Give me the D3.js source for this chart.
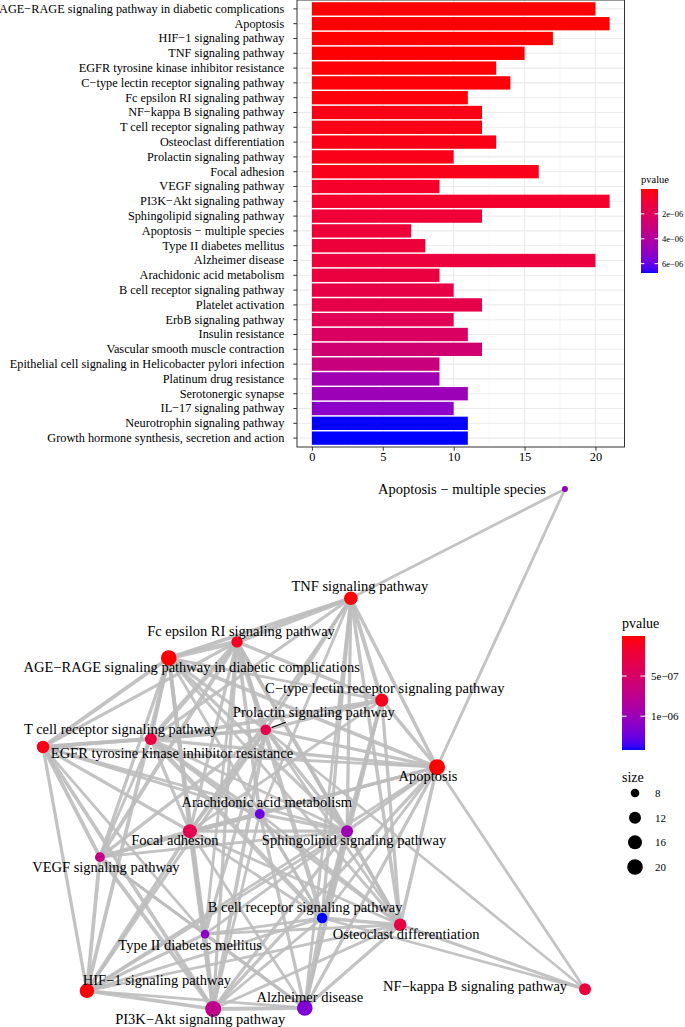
<!DOCTYPE html>
<html>
<head>
<meta charset="utf-8">
<script src="https://cdn.jsdelivr.net/npm/d3@7"></script>
<style>
  body { margin: 0; background: #fff; }
  svg { display: block; }
  svg text { font-family: "Liberation Serif", "Times New Roman", serif; }
</style>
</head>
<body>
<div id="chart"></div>
<script>
// ---- data ----
var terms = [
  "AGE\u2212RAGE signaling pathway in diabetic complications",
  "Apoptosis",
  "HIF\u22121 signaling pathway",
  "TNF signaling pathway",
  "EGFR tyrosine kinase inhibitor resistance",
  "C\u2212type lectin receptor signaling pathway",
  "Fc epsilon RI signaling pathway",
  "NF\u2212kappa B signaling pathway",
  "T cell receptor signaling pathway",
  "Osteoclast differentiation",
  "Prolactin signaling pathway",
  "Focal adhesion",
  "VEGF signaling pathway",
  "PI3K\u2212Akt signaling pathway",
  "Sphingolipid signaling pathway",
  "Apoptosis \u2212 multiple species",
  "Type II diabetes mellitus",
  "Alzheimer disease",
  "Arachidonic acid metabolism",
  "B cell receptor signaling pathway",
  "Platelet activation",
  "ErbB signaling pathway",
  "Insulin resistance",
  "Vascular smooth muscle contraction",
  "Epithelial cell signaling in Helicobacter pylori infection",
  "Platinum drug resistance",
  "Serotonergic synapse",
  "IL\u221217 signaling pathway",
  "Neurotrophin signaling pathway",
  "Growth hormone synthesis, secretion and action"
];
var counts = [20, 21, 17, 15, 13, 14, 11, 12, 12, 13, 10, 16, 9, 21, 12,
              7, 8, 20, 9, 10, 12, 10, 11, 12, 9, 9, 11, 10, 11, 11];
var pvalues = [2.1e-9, 5.6e-9, 1.2e-8, 2.0e-8, 6.0e-8, 8.0e-8, 1.1e-7, 2.4e-7,
               2.8e-7, 2.95e-7, 3.3e-7, 3.5e-7, 7.0e-7, 7.3e-7, 9.9e-7, 1.04e-6,
               1.09e-6, 1.16e-6, 1.24e-6, 1.42e-6, 1.52e-6, 1.8e-6, 2.2e-6, 2.7e-6,
               3.0e-6, 4.6e-6, 4.75e-6, 5.2e-6, 6.74e-6, 6.75e-6];
var xTicks = [0, 5, 10, 15, 20];
var barLegendTicks = [2e-6, 4e-6, 6e-6];

// network: the first 20 terms, keyed
var nodeKeys = ["A", "Ap", "H", "TN", "EG", "CT", "Fc", "NF", "TC", "Os",
                "Pr", "Fo", "VE", "PI", "Sp", "AM", "T2", "Az", "Ar", "BC"];
// layout coordinates (0..100)
var layoutX = [23.2, 72.7, 8.1, 56.8, 0, 62.5, 35.8, 100, 19.9, 65.9,
               41.1, 27.1, 10.5, 31.4, 56.1, 96.3, 29.9, 48.3, 40.0, 51.5];
var layoutY = [32.5, 53.5, 96.5, 21.0, 49.6, 40.6, 29.4, 96.2, 48.1, 83.8,
               46.3, 65.8, 70.8, 100, 65.8, 0, 85.6, 99.8, 62.5, 82.5];
// label nudges (px) from node centre
var labelDx = [23, -9, 70, 9, 129, 3, 4, -110, -30, 6,
               48, -15, 6, -13, 7, -103, -15, 5, 7, -17];
var labelDy = [9, 9, -11, -12, 6, -12, -11, -3, -10, 9,
               -18, 9, 10, 10, 9, 0, 11, -11, -12, -11];
var labelSegment = ["Pr"];
var netLegendTicks = [5e-7, 1e-6];
var sizeLegend = [8, 12, 16, 20];

var edges = [
  ["AM","TN",.25],["AM","Ap",.25],
  ["NF","Ap",.25],["NF","Pr",.22],["NF","Os",.27],["NF","BC",.22],
  ["TN","Fc",.42],["TN","A",.36],["TN","CT",.38],["TN","Ap",.32],["TN","Sp",.3],["TN","BC",.3],
  ["TN","Os",.32],["TN","Az",.25],["TN","Pr",.3],["TN","TC",.28],["TN","Fo",.25],["TN","Ar",.25],
  ["Fc","A",.48],["Fc","EG",.3],["Fc","TC",.45],["Fc","Pr",.35],["Fc","CT",.3],["Fc","Fo",.3],
  ["Fc","VE",.38],["Fc","Ar",.35],["Fc","Sp",.35],["Fc","BC",.45],["Fc","PI",.3],["Fc","Os",.3],["Fc","T2",.25],
  ["A","EG",.36],["A","TC",.3],["A","Pr",.3],["A","Fo",.36],["A","VE",.3],["A","H",.36],["A","PI",.32],
  ["A","Ap",.35],["A","Sp",.3],["A","T2",.3],["A","CT",.25],["A","Os",.25],["A","BC",.25],
  ["CT","Pr",.3],["CT","TC",.35],["CT","Ap",.32],["CT","Sp",.3],["CT","BC",.36],["CT","Os",.3],
  ["CT","Fo",.25],["CT","Az",.25],
  ["Pr","TC",.3],["Pr","Ap",.3],["Pr","EG",.35],["Pr","Fo",.36],["Pr","VE",.3],["Pr","PI",.36],
  ["Pr","T2",.3],["Pr","Sp",.3],["Pr","Os",.25],["Pr","H",.3],
  ["EG","TC",.35],["EG","VE",.36],["EG","H",.3],["EG","Fo",.3],["EG","PI",.35],["EG","Ap",.25],
  ["EG","Sp",.25],["EG","Ar",.25],["EG","T2",.25],
  ["TC","Fo",.3],["TC","BC",.45],["TC","Ap",.3],["TC","Sp",.25],["TC","Ar",.3],["TC","Os",.3],["TC","VE",.25],
  ["Ap","Fo",.3],["Ap","Sp",.3],["Ap","Os",.32],["Ap","Az",.3],["Ap","BC",.25],["Ap","Ar",.25],
  ["Ap","PI",.3],["Ap","VE",.25],["Ap","H",.25],
  ["Ar","Sp",.3],["Ar","Fo",.3],["Ar","Az",.3],["Ar","VE",.25],["Ar","BC",.25],["Ar","Os",.25],["Ar","PI",.25],
  ["Fo","VE",.4],["Fo","H",.36],["Fo","PI",.4],["Fo","Sp",.3],["Fo","BC",.25],["Fo","T2",.3],
  ["Fo","Az",.25],["Fo","Os",.25],
  ["Sp","BC",.3],["Sp","Az",.32],["Sp","Os",.3],["Sp","PI",.3],["Sp","VE",.25],["Sp","T2",.25],["Sp","H",.25],
  ["VE","H",.36],["VE","PI",.36],["VE","T2",.25],["VE","Az",.25],
  ["BC","Os",.32],["BC","Az",.32],["BC","PI",.25],["BC","T2",.25],["BC","H",.25],
  ["Os","Az",.3],["Os","PI",.25],["Os","T2",.25],["Os","H",.25],
  ["T2","H",.3],["T2","PI",.36],["T2","Az",.3],
  ["H","PI",.36],["H","Az",.25],["PI","Az",.36]
];

// ---- setup ----
var W = 685, H = 1027;
var font = "Liberation Serif, Times New Roman, serif";
var svg = d3.select("#chart").append("svg")
  .attr("width", W).attr("height", H);
var defs = svg.append("defs");

var ramp = d3.interpolateLab("red", "blue");

// R style "2e-06"
function sciLabel(v) {
  var e = Math.floor(Math.log10(v) + 1e-9);
  var m = Math.round(v / Math.pow(10, e));
  var ex = Math.abs(e);
  return m + "e" + (e < 0 ? "\u2212" : "+") + (ex < 10 ? "0" + ex : ex);
}

function gradient(id, n) {
  var g = defs.append("linearGradient").attr("id", id)
    .attr("x1", 0).attr("y1", 0).attr("x2", 0).attr("y2", 1);
  d3.range(n + 1).forEach(function (i) {
    g.append("stop").attr("offset", i / n).attr("stop-color", ramp(i / n));
  });
}

// ---- bar chart ----
var panel = { left: 297, right: 624.5, top: 0, bottom: 447 };
var x = d3.scaleLinear().domain([-1.05, 22.05]).range([panel.left, panel.right]);
var y = d3.scaleBand().domain(terms).range([panel.top, panel.bottom])
  .paddingInner(0.1).paddingOuter(0.15);
var barColor = d3.scaleLinear().domain(d3.extent(pvalues)).range([0, 1]);

var bars = svg.append("g");

// grid
bars.selectAll("line.minor")
  .data([2.5, 7.5, 12.5, 17.5]).enter()
  .append("line")
  .attr("x1", function (d) { return x(d); }).attr("x2", function (d) { return x(d); })
  .attr("y1", panel.top).attr("y2", panel.bottom)
  .style("stroke", "#f0f0f0").style("stroke-width", 0.6);
bars.selectAll("line.major")
  .data(xTicks).enter()
  .append("line")
  .attr("x1", function (d) { return x(d); }).attr("x2", function (d) { return x(d); })
  .attr("y1", panel.top).attr("y2", panel.bottom)
  .style("stroke", "#ebebeb").style("stroke-width", 1.1);
bars.selectAll("line.hgrid")
  .data(terms).enter()
  .append("line")
  .attr("x1", panel.left).attr("x2", panel.right)
  .attr("y1", function (d) { return y(d) + y.bandwidth() / 2; })
  .attr("y2", function (d) { return y(d) + y.bandwidth() / 2; })
  .style("stroke", "#ebebeb").style("stroke-width", 1.1);

bars.selectAll("rect.bar")
  .data(terms).enter()
  .append("rect")
  .attr("x", x(0))
  .attr("y", function (d) { return y(d); })
  .attr("width", function (d, i) { return x(counts[i]) - x(0); })
  .attr("height", y.bandwidth())
  .style("fill", function (d, i) { return ramp(barColor(pvalues[i])); });

bars.append("rect")
  .attr("x", panel.left).attr("y", panel.top)
  .attr("width", panel.right - panel.left).attr("height", panel.bottom - panel.top)
  .style("fill", "none").style("stroke", "#333333").style("stroke-width", 1);

// y axis
var yAxis = bars.append("g").attr("transform", "translate(" + panel.left + ",0)")
  .call(d3.axisLeft(y).tickSizeOuter(0).tickSize(3.7).tickPadding(9));
yAxis.attr("font-family", font).attr("font-size", 12.3);
yAxis.select(".domain").remove();
yAxis.selectAll("line").style("stroke", "#333333");
yAxis.selectAll("text").style("fill", "#000");

// x axis
var xAxis = bars.append("g").attr("transform", "translate(0," + panel.bottom + ")")
  .call(d3.axisBottom(x).tickValues(xTicks).tickSizeOuter(0).tickSize(3.7).tickPadding(2));
xAxis.attr("font-family", font).attr("font-size", 12.3);
xAxis.select(".domain").remove();
xAxis.selectAll("line").style("stroke", "#333333");
xAxis.selectAll("text").style("fill", "#000");

// legend (bars)
gradient("gradBar", 40);
var barLeg = { x: 641, y: 189, w: 17, h: 84 };
var barLegScale = d3.scaleLinear().domain(d3.extent(pvalues)).range([barLeg.y, barLeg.y + barLeg.h]);
svg.append("text").attr("x", barLeg.x).attr("y", barLeg.y - 6)
  .style("font-size", "10.5px").text("pvalue");
svg.append("rect").attr("x", barLeg.x).attr("y", barLeg.y)
  .attr("width", barLeg.w).attr("height", barLeg.h).style("fill", "url(#gradBar)");
var bt = svg.append("g").selectAll("g").data(barLegendTicks).enter().append("g");
bt.append("line").attr("x1", barLeg.x).attr("x2", barLeg.x + 3.4)
  .attr("y1", function (d) { return barLegScale(d); }).attr("y2", function (d) { return barLegScale(d); })
  .style("stroke", "#fff");
bt.append("line").attr("x1", barLeg.x + barLeg.w - 3.4).attr("x2", barLeg.x + barLeg.w)
  .attr("y1", function (d) { return barLegScale(d); }).attr("y2", function (d) { return barLegScale(d); })
  .style("stroke", "#fff");
bt.append("text").attr("x", barLeg.x + barLeg.w + 4)
  .attr("y", function (d) { return barLegScale(d); }).attr("dy", "0.35em")
  .style("font-size", "8.5px").text(sciLabel);

// ---- network ----
var nx = d3.scaleLinear().domain([0, 100]).range([43, 585]);
var ny = d3.scaleLinear().domain([0, 100]).range([489, 1009]);
var netP = pvalues.slice(0, nodeKeys.length);
var netCounts = counts.slice(0, nodeKeys.length);
var netColor = d3.scaleLinear().domain(d3.extent(netP)).range([0, 1]);
var sizeT = d3.scaleLinear().domain(d3.extent(netCounts)).range([0, 1]);
var radius = d3.scaleSqrt().domain([0, 1]).range([3, 8]);
var edgeWidth = d3.scaleLinear().domain([0.2, 0.5]).range([2.4, 5]);

var nodes = nodeKeys.map(function (k, i) {
  return { key: k, name: terms[i], x: nx(layoutX[i]), y: ny(layoutY[i]),
           r: radius(sizeT(netCounts[i])), fill: ramp(netColor(netP[i])),
           lx: nx(layoutX[i]) + labelDx[i], ly: ny(layoutY[i]) + labelDy[i] };
});
var byKey = {};
nodes.forEach(function (n) { byKey[n.key] = n; });

var net = svg.append("g");
net.selectAll("line.edge")
  .data(edges).enter()
  .append("line")
  .attr("x1", function (d) { return byKey[d[0]].x; })
  .attr("y1", function (d) { return byKey[d[0]].y; })
  .attr("x2", function (d) { return byKey[d[1]].x; })
  .attr("y2", function (d) { return byKey[d[1]].y; })
  .style("stroke", "#bdbdbd").style("stroke-opacity", 0.9)
  .style("stroke-width", function (d) { return edgeWidth(d[2]); });

net.selectAll("circle.node")
  .data(nodes).enter()
  .append("circle")
  .attr("cx", function (d) { return d.x; })
  .attr("cy", function (d) { return d.y; })
  .attr("r", function (d) { return d.r; })
  .style("fill", function (d) { return d.fill; });

// label segments (ggrepel style)
net.selectAll("line.seg")
  .data(nodes.filter(function (d) { return labelSegment.indexOf(d.key) >= 0; })).enter()
  .append("line")
  .each(function (d) {
    var dx = d.lx - d.x, dy = d.ly - d.y, len = Math.sqrt(dx * dx + dy * dy);
    d3.select(this)
      .attr("x1", d.x + dx / len * (d.r + 1)).attr("y1", d.y + dy / len * (d.r + 1))
      .attr("x2", d.x + dx / len * (d.r + 16)).attr("y2", d.y + dy / len * (d.r + 16));
  })
  .style("stroke", "#000").style("stroke-width", 1.2);

net.selectAll("text.lab")
  .data(nodes).enter()
  .append("text")
  .attr("x", function (d) { return d.lx; })
  .attr("y", function (d) { return d.ly; })
  .attr("dy", "0.35em")
  .attr("text-anchor", "middle")
  .style("font-size", "14.5px")
  .text(function (d) { return d.name; });

// legend (network)
gradient("gradNet", 40);
var netLeg = { x: 622, y: 636, w: 23, h: 114 };
var netLegScale = d3.scaleLinear().domain(d3.extent(netP)).range([netLeg.y, netLeg.y + netLeg.h]);
svg.append("text").attr("x", netLeg.x).attr("y", netLeg.y - 8)
  .style("font-size", "14px").text("pvalue");
svg.append("rect").attr("x", netLeg.x).attr("y", netLeg.y)
  .attr("width", netLeg.w).attr("height", netLeg.h).style("fill", "url(#gradNet)");
var nt = svg.append("g").selectAll("g").data(netLegendTicks).enter().append("g");
nt.append("line").attr("x1", netLeg.x).attr("x2", netLeg.x + 4.6)
  .attr("y1", function (d) { return netLegScale(d); }).attr("y2", function (d) { return netLegScale(d); })
  .style("stroke", "#fff");
nt.append("line").attr("x1", netLeg.x + netLeg.w - 4.6).attr("x2", netLeg.x + netLeg.w)
  .attr("y1", function (d) { return netLegScale(d); }).attr("y2", function (d) { return netLegScale(d); })
  .style("stroke", "#fff");
nt.append("text").attr("x", netLeg.x + netLeg.w + 6)
  .attr("y", function (d) { return netLegScale(d); }).attr("dy", "0.35em")
  .style("font-size", "11px").text(sciLabel);

svg.append("text").attr("x", netLeg.x).attr("y", 782)
  .style("font-size", "14px").text("size");
var sizeY = d3.scalePoint().domain(sizeLegend).range([793, 867]);
var sl = svg.append("g").selectAll("g").data(sizeLegend).enter().append("g");
sl.append("circle").attr("cx", 635).attr("cy", function (d) { return sizeY(d); })
  .attr("r", function (d) { return radius(sizeT(d)); }).style("fill", "#000");
sl.append("text").attr("x", 655).attr("y", function (d) { return sizeY(d); })
  .attr("dy", "0.35em").style("font-size", "11px").text(function (d) { return d; });
</script>
</body>
</html>
